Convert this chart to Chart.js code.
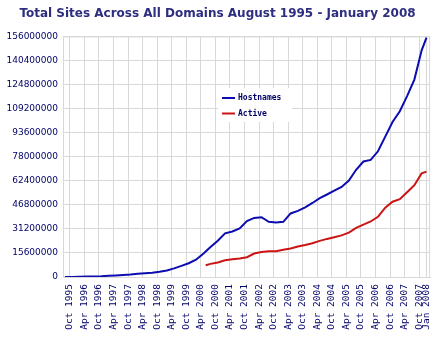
<!DOCTYPE html>
<html>
<head>
<meta charset="utf-8">
<script src="https://cdn.jsdelivr.net/npm/chart.js@4"></script>
<style>
  html, body { margin: 0; padding: 0; background: #fff; }
  #wrap { width: 445px; height: 340px; }
</style>
</head>
<body>
<div id="wrap"><canvas id="sites-chart"></canvas></div>
<script>
// sample months (YYYY-MM); values in millions of sites
const months = [
  '1995-08','1995-11','1996-02','1996-05','1996-08','1996-11','1997-02','1997-05','1997-08','1997-11',
  '1998-02','1998-05','1998-08','1998-11','1999-02','1999-05','1999-08','1999-11','2000-02','2000-05',
  '2000-06','2000-08','2000-11','2001-02','2001-05','2001-08','2001-11','2002-02','2002-05','2002-08',
  '2002-11','2003-02','2003-05','2003-08','2003-11','2004-02','2004-05','2004-08','2004-11','2005-02',
  '2005-05','2005-08','2005-11','2006-02','2006-05','2006-08','2006-11','2007-02','2007-05','2007-08',
  '2007-11','2008-01'
];
const hostnames = [
  0.02, 0.07, 0.15, 0.25, 0.35, 0.5, 0.8, 1.0, 1.3, 1.6,
  2.1, 2.4, 2.8, 3.4, 4.2, 5.6, 7.2, 8.9, 11.2, 15.0,
  16.5, 19.5, 23.5, 28.3, 29.5, 31.5, 36.3, 38.3, 38.8, 35.8,
  35.3, 35.8, 41.2, 42.9, 45.2, 48.0, 51.1, 53.5, 56.0, 58.4,
  62.5, 69.5, 74.9, 75.9, 81.5, 91.0, 100.5, 107.5, 117.3, 128.0,
  147.0, 155.2
];
const active = [
  null, null, null, null, null, null, null, null, null, null,
  null, null, null, null, null, null, null, null, null, null,
  7.6, 8.5, 9.4, 10.9, 11.5, 12.0, 12.8, 15.2, 16.2, 16.7,
  16.7, 17.6, 18.5, 19.8, 20.7, 21.9, 23.4, 24.7, 25.8, 27.0,
  28.8, 31.8, 34.0, 36.0, 39.0, 45.0, 48.8, 50.5, 55.0, 59.5,
  67.2, 68.3
];
const tickLabels = [
  'Oct 1995','Apr 1996','Oct 1996','Apr 1997','Oct 1997','Apr 1998','Oct 1998','Apr 1999',
  'Oct 1999','Apr 2000','Oct 2000','Apr 2001','Oct 2001','Apr 2002','Oct 2002','Apr 2003',
  'Oct 2003','Apr 2004','Oct 2004','Apr 2005','Oct 2005','Apr 2006','Oct 2006','Apr 2007',
  'Oct 2007','Jan 2008'
];

const MON = ['Jan','Feb','Mar','Apr','May','Jun','Jul','Aug','Sep','Oct','Nov','Dec'];
// month index counted from Aug 1995
function monthIndex(ym) {
  const [y, m] = ym.split('-').map(Number);
  return (y - 1995) * 12 + (m - 8);
}
function labelIndex(lbl) {
  const [mon, y] = lbl.split(' ');
  return (Number(y) - 1995) * 12 + MON.indexOf(mon) + 1 - 8;
}
const tickPos = tickLabels.map(labelIndex);

const navy = '#000066';
const gridColor = '#d8d8d8';

const frame = {
  id: 'frame',
  beforeDatasetsDraw(chart) {
    const { ctx, chartArea: a } = chart;
    ctx.save();
    ctx.strokeStyle = gridColor;
    ctx.lineWidth = 1;
    ctx.strokeRect(a.left + 0.5, a.top + 0.5, a.right - a.left - 1, a.bottom - a.top);
    ctx.restore();
  }
};

const boxLegend = {
  id: 'boxLegend',
  afterDatasetsDraw(chart) {
    const { ctx } = chart;
    ctx.save();
    ctx.fillStyle = '#fff';
    ctx.fillRect(218, 88, 74, 34);
    ctx.font = 'bold 8px "DejaVu Sans Mono"';
    ctx.textBaseline = 'middle';
    chart.data.datasets.forEach((ds, i) => {
      const y = 98 + i * 15.5;
      ctx.strokeStyle = ds.borderColor;
      ctx.lineWidth = 2;
      ctx.beginPath();
      ctx.moveTo(222, y);
      ctx.lineTo(235, y);
      ctx.stroke();
      ctx.fillStyle = navy;
      ctx.fillText(ds.label, 238, y);
    });
    ctx.restore();
  }
};

new Chart(document.getElementById('sites-chart'), {
  type: 'line',
  data: {
    datasets: [
      {
        label: 'Hostnames',
        data: months.map((m, i) => ({ x: monthIndex(m), y: hostnames[i] })),
        borderColor: '#0c0cb0',
        borderWidth: 2,
        pointRadius: 0,
        tension: 0
      },
      {
        label: 'Active',
        data: months.map((m, i) => ({ x: monthIndex(m), y: active[i] })),
        borderColor: '#cc1414',
        borderWidth: 2,
        pointRadius: 0,
        tension: 0
      }
    ]
  },
  options: {
    responsive: true,
    maintainAspectRatio: false,
    animation: false,
    layout: { padding: { left: 0, right: 10, top: 0, bottom: 0 } },
    plugins: {
      legend: { display: false },
      tooltip: { enabled: false },
      title: {
        display: true,
        text: 'Total Sites Across All Domains August 1995 - January 2008',
        color: '#2e2e80',
        font: { family: 'Verdana, "DejaVu Sans"', size: 12, weight: 'bold' },
        padding: { top: 7, bottom: 15 }
      }
    },
    scales: {
      x: {
        type: 'linear',
        min: -0.8,
        max: 150.5,
        afterBuildTicks: s => { s.ticks = tickPos.map(v => ({ value: v })); },
        afterFit: s => { s.height = 63; },
        grid: { color: gridColor, drawTicks: false },
        border: { color: gridColor },
        ticks: {
          autoSkip: false,
          minRotation: 90,
          maxRotation: 90,
          padding: 7,
          color: navy,
          font: { family: '"DejaVu Sans Mono"', size: 9.5 },
          callback: v => tickLabels[tickPos.indexOf(v)] || ''
        }
      },
      y: {
        min: 0,
        max: 156,
        afterFit: s => { s.width = 63; },
        grid: { color: gridColor, drawTicks: false },
        border: { color: gridColor },
        ticks: {
          stepSize: 15.6,
          padding: 5,
          color: navy,
          font: { family: '"DejaVu Sans"', size: 9 },
          callback: v => String(Math.round(v * 1000000))
        }
      }
    }
  },
  plugins: [frame, boxLegend]
});
</script>
</body>
</html>
